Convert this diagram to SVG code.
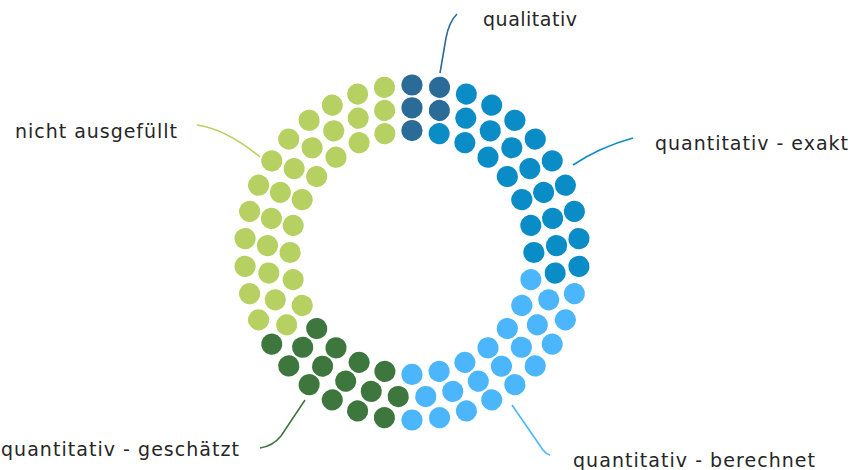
<svg xmlns="http://www.w3.org/2000/svg" xmlns:xlink="http://www.w3.org/1999/xlink" width="853" height="470" viewBox="0 0 853 470">
<style>
text{font-family:"DejaVu Sans","Liberation Sans",sans-serif;font-size:19px;fill:#262626}
.c{fill:none;stroke-width:1.6}
.s1{fill:#2b6b97}.s2{fill:#0a8cc6}.s3{fill:#4bb6fb}.s4{fill:#3e773d}.s5{fill:#b6d161}
</style>
<defs>
<circle id="o" cx="0" cy="-167.5" r="10.6"/>
<circle id="m" cx="0" cy="-144.7" r="10.6"/>
<circle id="i" cx="0" cy="-121.9" r="10.6"/>
</defs>
<rect width="853" height="470" fill="#fff"/>
<g id="connectors">
<path class="c" stroke="#2b6b97" d="M440 73 L446 38 Q449 22 457 14"/>
<path class="c" stroke="#0a8cc6" d="M573 165 Q600 147 633 138"/>
<path class="c" stroke="#4bb6fb" d="M512 405 L543 450 Q546 454 550 455"/>
<path class="c" stroke="#3e773d" d="M305 400 L281 436 Q273 446 260 448"/>
<path class="c" stroke="#b6d161" d="M197 125 Q226 129 260 157"/>
</g>
<g id="qualitativ">
<g class="s1" transform="translate(412 252.5)">
<use xlink:href="#o"/><use xlink:href="#m"/><use xlink:href="#i"/>
<use xlink:href="#o" transform="rotate(9.4737)"/><use xlink:href="#m" transform="rotate(10.9091)"/>
</g>
<text x="483" y="26" textLength="94" lengthAdjust="spacing">qualitativ</text>
</g>
<g id="quantitativ-exakt">
<g class="s2" transform="translate(412 252.5)">
<use xlink:href="#o" transform="rotate(18.9474)"/><use xlink:href="#o" transform="rotate(28.4211)"/><use xlink:href="#o" transform="rotate(37.8947)"/><use xlink:href="#o" transform="rotate(47.3684)"/><use xlink:href="#o" transform="rotate(56.8421)"/><use xlink:href="#o" transform="rotate(66.3158)"/><use xlink:href="#o" transform="rotate(75.7895)"/><use xlink:href="#o" transform="rotate(85.2632)"/><use xlink:href="#o" transform="rotate(94.7368)"/>
<use xlink:href="#m" transform="rotate(21.8182)"/><use xlink:href="#m" transform="rotate(32.7273)"/><use xlink:href="#m" transform="rotate(43.6364)"/><use xlink:href="#m" transform="rotate(54.5455)"/><use xlink:href="#m" transform="rotate(65.4545)"/><use xlink:href="#m" transform="rotate(76.3636)"/><use xlink:href="#m" transform="rotate(87.2727)"/><use xlink:href="#m" transform="rotate(98.1818)"/>
<use xlink:href="#i" transform="rotate(12.8571)"/><use xlink:href="#i" transform="rotate(25.7143)"/><use xlink:href="#i" transform="rotate(38.5714)"/><use xlink:href="#i" transform="rotate(51.4286)"/><use xlink:href="#i" transform="rotate(64.2857)"/><use xlink:href="#i" transform="rotate(77.1429)"/><use xlink:href="#i" transform="rotate(90)"/>
</g>
<text x="655" y="150" textLength="193" lengthAdjust="spacing">quantitativ - exakt</text>
</g>
<g id="quantitativ-berechnet">
<g class="s3" transform="translate(412 252.5)">
<use xlink:href="#o" transform="rotate(104.2105)"/><use xlink:href="#o" transform="rotate(113.6842)"/><use xlink:href="#o" transform="rotate(123.1579)"/><use xlink:href="#o" transform="rotate(132.6316)"/><use xlink:href="#o" transform="rotate(142.1053)"/><use xlink:href="#o" transform="rotate(151.5789)"/><use xlink:href="#o" transform="rotate(161.0526)"/><use xlink:href="#o" transform="rotate(170.5263)"/><use xlink:href="#o" transform="rotate(180)"/>
<use xlink:href="#m" transform="rotate(109.0909)"/><use xlink:href="#m" transform="rotate(120)"/><use xlink:href="#m" transform="rotate(130.9091)"/><use xlink:href="#m" transform="rotate(141.8182)"/><use xlink:href="#m" transform="rotate(152.7273)"/><use xlink:href="#m" transform="rotate(163.6364)"/><use xlink:href="#m" transform="rotate(174.5455)"/>
<use xlink:href="#i" transform="rotate(102.8571)"/><use xlink:href="#i" transform="rotate(115.7143)"/><use xlink:href="#i" transform="rotate(128.5714)"/><use xlink:href="#i" transform="rotate(141.4286)"/><use xlink:href="#i" transform="rotate(154.2857)"/><use xlink:href="#i" transform="rotate(167.1429)"/><use xlink:href="#i" transform="rotate(180)"/>
</g>
<text x="573" y="467" textLength="242" lengthAdjust="spacing">quantitativ - berechnet</text>
</g>
<g id="quantitativ-geschaetzt">
<g class="s4" transform="translate(412 252.5)">
<use xlink:href="#o" transform="rotate(189.4737)"/><use xlink:href="#o" transform="rotate(198.9474)"/><use xlink:href="#o" transform="rotate(208.4211)"/><use xlink:href="#o" transform="rotate(217.8947)"/><use xlink:href="#o" transform="rotate(227.3684)"/><use xlink:href="#o" transform="rotate(236.8421)"/>
<use xlink:href="#m" transform="rotate(185.4545)"/><use xlink:href="#m" transform="rotate(196.3636)"/><use xlink:href="#m" transform="rotate(207.2727)"/><use xlink:href="#m" transform="rotate(218.1818)"/><use xlink:href="#m" transform="rotate(229.0909)"/>
<use xlink:href="#i" transform="rotate(192.8571)"/><use xlink:href="#i" transform="rotate(205.7143)"/><use xlink:href="#i" transform="rotate(218.5714)"/><use xlink:href="#i" transform="rotate(231.4286)"/>
</g>
<text x="1" y="456" textLength="238" lengthAdjust="spacing">quantitativ - geschätzt</text>
</g>
<g id="nicht-ausgefuellt">
<g class="s5" transform="translate(412 252.5)">
<use xlink:href="#o" transform="rotate(246.3158)"/><use xlink:href="#o" transform="rotate(255.7895)"/><use xlink:href="#o" transform="rotate(265.2632)"/><use xlink:href="#o" transform="rotate(274.7368)"/><use xlink:href="#o" transform="rotate(284.2105)"/><use xlink:href="#o" transform="rotate(293.6842)"/><use xlink:href="#o" transform="rotate(303.1579)"/><use xlink:href="#o" transform="rotate(312.6316)"/><use xlink:href="#o" transform="rotate(322.1053)"/><use xlink:href="#o" transform="rotate(331.5789)"/><use xlink:href="#o" transform="rotate(341.0526)"/><use xlink:href="#o" transform="rotate(350.5263)"/>
<use xlink:href="#m" transform="rotate(240)"/><use xlink:href="#m" transform="rotate(250.9091)"/><use xlink:href="#m" transform="rotate(261.8182)"/><use xlink:href="#m" transform="rotate(272.7273)"/><use xlink:href="#m" transform="rotate(283.6364)"/><use xlink:href="#m" transform="rotate(294.5455)"/><use xlink:href="#m" transform="rotate(305.4545)"/><use xlink:href="#m" transform="rotate(316.3636)"/><use xlink:href="#m" transform="rotate(327.2727)"/><use xlink:href="#m" transform="rotate(338.1818)"/><use xlink:href="#m" transform="rotate(349.0909)"/>
<use xlink:href="#i" transform="rotate(244.2857)"/><use xlink:href="#i" transform="rotate(257.1429)"/><use xlink:href="#i" transform="rotate(270)"/><use xlink:href="#i" transform="rotate(282.8571)"/><use xlink:href="#i" transform="rotate(295.7143)"/><use xlink:href="#i" transform="rotate(308.5714)"/><use xlink:href="#i" transform="rotate(321.4286)"/><use xlink:href="#i" transform="rotate(334.2857)"/><use xlink:href="#i" transform="rotate(347.1429)"/>
</g>
<text x="15" y="138" textLength="162" lengthAdjust="spacing">nicht ausgefüllt</text>
</g>
</svg>
